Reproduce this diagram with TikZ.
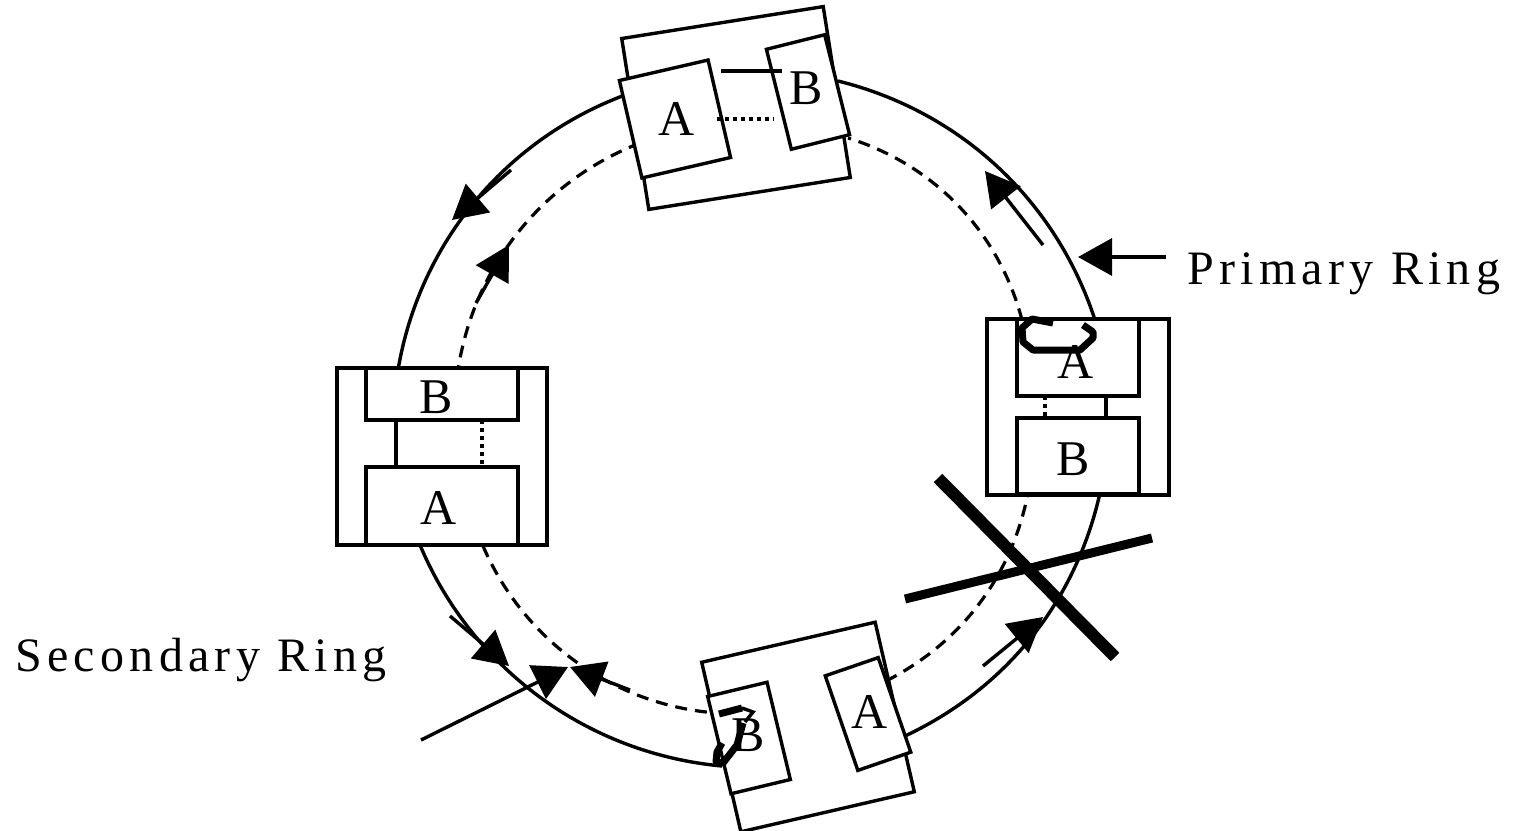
\documentclass[tikz,border=0pt]{standalone}
\usepackage{fontspec}
\setmainfont{Liberation Serif}
\usetikzlibrary{arrows.meta}

\begin{document}
\begin{tikzpicture} [x = 0.5pt, y = -0.5pt,
          font = \fontsize{24}{28}\selectfont,
          ring/.style = {line width = 1.7pt},
          box/.style = {ring, draw, fill = white, inner sep = 0pt, outer sep = 0pt},
          letter/.style = {inner sep = 0pt, font = \fontsize{25}{28}\selectfont},
          tag/.style = {inner sep = 0pt, font = \fontsize{24}{28}\selectfont\addfontfeature{LetterSpace=11}},
          dashring/.style = {line width = 1.6pt, dash pattern = on 6pt off 4pt},
          dotline/.style = {line width = 2pt, dash pattern = on 2pt off 2pt},
          bigtip/.style = {ring, -{Triangle[length = 17pt, width = 18.5pt]}},
          blob/.style = {line width = 3.5pt, line join = round}
          ]

          \useasboundingbox (0,0) rectangle (1518,830);

          % Ring end points
          \coordinate (p1) at (625,95);
          \coordinate (p2) at (398,370);
          \coordinate (p3) at (420,545);
          \coordinate (p4) at (722,766);
          \coordinate (p5) at (905,736);
          \coordinate (p6) at (1100,493);
          \coordinate (p7) at (1095,320);
          \coordinate (p8) at (838,81);
          \coordinate (s1) at (640,143);
          \coordinate (s2) at (458,370);
          \coordinate (s3) at (483,546);
          \coordinate (s4) at (716,713);
          \coordinate (s5) at (886,681);
          \coordinate (s6) at (1028,493);
          \coordinate (s7) at (1022,320);
          \coordinate (s8) at (848,138);

          % Primary Ring
          \draw [ring] (p1) to [bend right = 30, looseness = 0.92] (p2);
          \draw [ring] (p3) to [bend right = 31, looseness = 0.92] (p4);
          \draw [ring] (p5) to [bend right = 26, looseness = 0.92] (p6);
          \draw [ring] (p7) to [bend right = 29, looseness = 0.92] (p8);

          % Secondary Ring
          \draw [dashring] (s1) to [bend right = 30, looseness = 0.92] (s2);
          \draw [dashring] (s3) to [bend right = 31, looseness = 0.92] (s4);
          \draw [dashring] (s5) to [bend right = 26, looseness = 0.92] (s6);
          \draw [dashring] (s7) to [bend right = 29, looseness = 0.92] (s8);

          % Top station
          \node (t) [box, rotate = 9, minimum width = 102pt, minimum height = 86.5pt] at (736,108) {};
          \node (ta) [box, rotate = 13, minimum width = 45.5pt, minimum height = 50pt] at (675,119) {};
          \node (tb) [box, rotate = 14, minimum width = 30pt, minimum height = 51.5pt] at (808,92) {};
          \node (tat) [letter] at (677,119) {A};
          \node (tbt) [letter] at (806,88) {B};
          \coordinate (t1) at (721,71);
          \coordinate (t2) at (782,71);
          \coordinate (t3) at (717,119);
          \coordinate (t4) at (774,119);
          \draw [ring] (t1) -- (t2);
          \draw [dotline] (t3) -- (t4);

          % Left station
          \node (l) [box, minimum width = 105pt, minimum height = 88.5pt] at (442,456.5) {};
          \node (lb) [box, minimum width = 76pt, minimum height = 26pt] at (442,394) {};
          \node (la) [box, minimum width = 76pt, minimum height = 39pt] at (442,506) {};
          \node (lbt) [letter] at (436,397) {B};
          \node (lat) [letter] at (439,508) {A};
          \draw [ring] ([xshift = -23pt]lb.south) -- ([xshift = -23pt]la.north);
          \draw [dotline] ([xshift = 20pt]lb.south) -- ([xshift = 20pt]la.north);

          % Right station
          \node (r) [box, minimum width = 91pt, minimum height = 88pt] at (1078,407) {};
          \node (ra) [box, minimum width = 61pt, minimum height = 38.5pt] at (1078,357.5) {};
          \node (rb) [box, minimum width = 61pt, minimum height = 38pt] at (1078,456) {};
          \node (rat) [letter] at (1076,362) {A};
          \node (rbt) [letter] at (1073,459) {B};
          \draw [ring] ([xshift = 14pt]ra.south) -- ([xshift = 14pt]rb.north);
          \draw [dotline] ([xshift = -16.5pt]ra.south) -- ([xshift = -16.5pt]rb.north);
          \draw [blob] (1053,323) -- (1032,319) -- (1022,328) -- (1023,342) -- (1033,350) -- (1080,350) -- (1093,338) -- (1093,332) -- (1083,325);

          % Bottom station
          \node (b) [box, rotate = 13, minimum width = 89pt, minimum height = 87pt] at (808,727) {};
          \node (ba) [box, rotate = 19, minimum width = 28pt, minimum height = 50pt] at (868,714) {};
          \node (bb) [box, rotate = 13.5, minimum width = 30.5pt, minimum height = 50pt] at (749,738) {};
          \node (bat) [letter] at (870,712) {A};
          \node (bbt) [letter] at (748,735) {B};
          \draw [blob] (719,714) -- (742,708);
          \draw [ring] (742,708) -- (753,712) -- (745,722);
          \draw [blob] (743,723) -- (737,745) -- (723,763) -- (716,762) -- (717,752) -- (722,743);

          % Flow arrows
          \coordinate (f1) at (511,170);
          \coordinate (f2) at (452,220);
          \coordinate (f3) at (476,303);
          \coordinate (f4) at (509,245);
          \coordinate (f5) at (450,616);
          \coordinate (f6) at (509,666);
          \coordinate (f7) at (630,690);
          \coordinate (f8) at (570,667);
          \coordinate (f9) at (1043,245);
          \coordinate (f10) at (985,171);
          \coordinate (f11) at (983,666);
          \coordinate (f12) at (1043,617);
          \draw [bigtip] (f1) -- (f2);
          \draw [bigtip] (f3) -- (f4);
          \draw [bigtip] (f5) -- (f6);
          \draw [bigtip] (f7) -- (f8);
          \draw [bigtip] (f9) -- (f10);
          \draw [bigtip] (f11) -- (f12);

          % Labels
          \node (prim) [tag, anchor = west] at (1187,274) {Primary Ring};
          \node (sec) [tag, anchor = west] at (15,660) {Secondary Ring};
          \coordinate (q1) at (1166,257);
          \coordinate (q2) at (1078,257);
          \coordinate (q3) at (421,740);
          \coordinate (q4) at (568,667);
          \draw [bigtip] (q1) -- (q2);
          \draw [bigtip] (q3) -- (q4);

          % Break
          \coordinate (x1) at (938,478);
          \coordinate (x2) at (1115,657);
          \coordinate (x3) at (905,599);
          \coordinate (x4) at (1152,538);
          \draw [line width = 6pt] (x1) -- (x2);
          \draw [line width = 4.5pt] (x3) -- (x4);

\end{tikzpicture}
\end{document}
